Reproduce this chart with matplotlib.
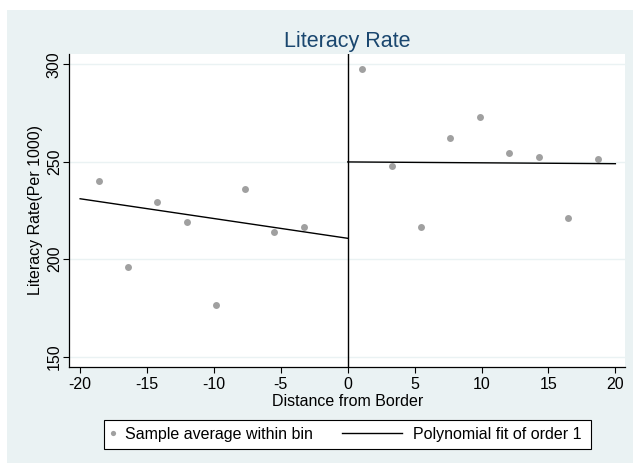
import matplotlib
matplotlib.use("Agg")
import matplotlib.pyplot as plt
from matplotlib.patches import Rectangle
from matplotlib.lines import Line2D
from matplotlib.legend_handler import HandlerLine2D

# ---------------- data ----------------
bin_x_left = [-18.61, -16.42, -14.23, -12.03, -9.87, -7.68, -5.49, -3.30]
bin_y_left = [240.1, 196.2, 229.4, 219.2, 176.5, 236.0, 214.0, 216.5]
bin_x_right = [1.09, 3.31, 5.48, 7.67, 9.87, 12.06, 14.27, 16.49, 18.68]
bin_y_right = [297.8, 248.0, 216.7, 262.2, 273.1, 254.6, 252.4, 221.3, 251.3]
fit_x_left = [-20.0, 0.0]
fit_y_left = [231.0, 210.7]
fit_x_right = [0.0, 20.0]
fit_y_right = [249.9, 249.0]
x_ticks = [-20, -15, -10, -5, 0, 5, 10, 15, 20]
y_ticks = [150, 200, 250, 300]
title = "Literacy Rate"
x_label = "Distance from Border"
y_label = "Literacy Rate(Per 1000)"
legend_labels = ["Sample average within bin", "Polynomial fit of order 1"]

# ---------------- style ----------------
plt.rcParams['font.family'] = ['Liberation Sans', 'DejaVu Sans']
W, H = 635, 465
BG = '#EAF2F3'
NAVY = '#1A476F'
PT_COLOR = '#a0a0a0'
FS = 11.5

fig = plt.figure(figsize=(W / 100, H / 100), dpi=100, facecolor='white')

def fx(px):
    return px / W

def fy(py):
    return (H - py) / H

# outer graph region
fig.add_artist(Rectangle((fx(7), fy(463)), fx(633) - fx(7), fy(10) - fy(463),
                         transform=fig.transFigure, facecolor=BG,
                         edgecolor='none', zorder=0))

ax_l, ax_r, ax_t, ax_b = 69.3, 625.0, 54.0, 366.7
ax = fig.add_axes([fx(ax_l), fy(ax_b), fx(ax_r) - fx(ax_l), fy(ax_t) - fy(ax_b)])
ax.set_facecolor('white')
ax.set_xlim(-20.81, 20.72)
ax.set_ylim(144.8, 305.3)

for s in ['top', 'right']:
    ax.spines[s].set_visible(False)
for s in ['left', 'bottom']:
    ax.spines[s].set_color('black')
    ax.spines[s].set_linewidth(0.9)

ax.set_xticks(x_ticks)
ax.set_yticks(y_ticks)
ax.set_xticklabels([str(t) for t in x_ticks])
ax.set_yticklabels([str(t) for t in y_ticks], rotation=90, va='center')
ax.tick_params(axis='both', direction='out', length=4.3, width=0.8,
               color='black', labelsize=FS, labelcolor='black')
ax.tick_params(axis='x', pad=3)
ax.tick_params(axis='y', pad=1)
ax.yaxis.grid(True, color=BG, linewidth=1.0)
ax.set_axisbelow(True)

# data marks
pts_l, = ax.plot(bin_x_left, bin_y_left, 'o', ls='none', color=PT_COLOR,
                 markersize=5, markeredgewidth=0, zorder=3)
ax.plot(bin_x_right, bin_y_right, 'o', ls='none', color=PT_COLOR,
        markersize=5, markeredgewidth=0, zorder=3)
fit_l, = ax.plot(fit_x_left, fit_y_left, color='black', lw=1.0, zorder=4)
ax.plot(fit_x_right, fit_y_right, color='black', lw=1.0, zorder=4)
ax.axvline(0, color='black', lw=1.0, zorder=4)

ax.set_title(title, fontsize=15.5, color=NAVY, pad=5)
ax.set_xlabel(x_label, fontsize=FS, labelpad=1.5)
ax.set_ylabel(y_label, fontsize=FS, labelpad=2.5)

# legend frame
fig.add_artist(Rectangle((fx(104), fy(449)), fx(591) - fx(104), fy(420) - fy(449),
                         transform=fig.transFigure, facecolor='white',
                         edgecolor='black', lw=0.8, zorder=1))


class LongLineHandler(HandlerLine2D):
    def create_artists(self, legend, orig_handle, xdescent, ydescent,
                       width, height, fontsize, trans):
        yv = height / 2.0 - ydescent
        x0 = -xdescent
        line = Line2D([x0 - 3.45 * fontsize, x0 + 0.3 * fontsize], [yv, yv])
        self.update_prop(line, orig_handle, legend)
        line.set_marker('None')
        line.set_transform(trans)
        return [line]


leg = fig.legend([pts_l, fit_l], legend_labels, loc='center left',
                 bbox_to_anchor=(fx(109), fy(434.5)),
                 bbox_transform=fig.transFigure, ncol=2, frameon=False,
                 fontsize=FS, handlelength=0.5, handletextpad=0.5,
                 columnspacing=5.3, borderpad=0, borderaxespad=0,
                 numpoints=1, markerscale=0.75,
                 handler_map={fit_l: LongLineHandler()})
leg.set_zorder(2)

fig.savefig('out.png', dpi=100, facecolor='white')
